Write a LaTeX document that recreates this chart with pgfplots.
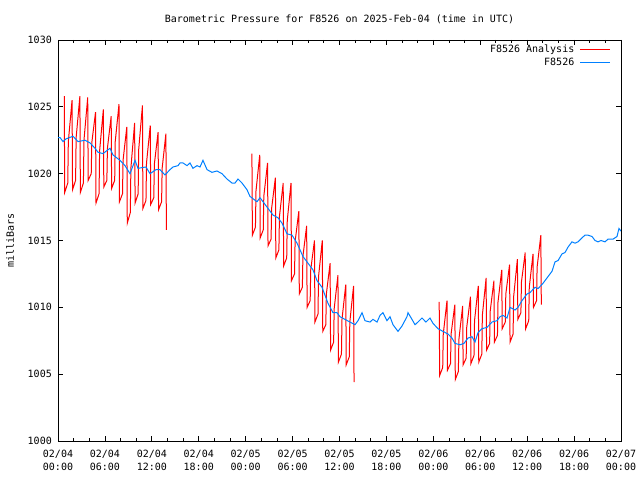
\documentclass[border=0pt]{standalone}
\usepackage{fontspec}
\setmainfont{DejaVu Sans Mono}
\usepackage{pgfplots}
\pgfplotsset{compat=1.18}
\definecolor{obsblue}{RGB}{0,128,255}

\begin{document}
\fontsize{10bp}{12.5bp}\selectfont
\begin{tikzpicture}
\path[use as bounding box] (0,0) rectangle (640bp,480bp);
\begin{axis}[
    at={(58bp,39bp)}, anchor=south west,
    width=563bp, height=401bp, scale only axis,
    xmin=0, xmax=72, ymin=1000, ymax=1030,
    xtick={0,6,...,72},
    minor x tick num=2,
    xticklabels={02/04\\00:00,02/04\\06:00,02/04\\12:00,02/04\\18:00,
                 02/05\\00:00,02/05\\06:00,02/05\\12:00,02/05\\18:00,
                 02/06\\00:00,02/06\\06:00,02/06\\12:00,02/06\\18:00,
                 02/07\\00:00},
    ytick={1000,1005,...,1030},
    tick align=inside,
    major tick length=5bp, minor tick length=3bp,
    tick style={black, line width=0.8bp},
    axis line style={line width=0.8bp},
    /pgf/number format/assume math mode=true,
    /pgf/number format/1000 sep={},
    xticklabel style={align=center, inner sep=0pt, yshift=-9bp},
    yticklabel style={inner sep=0pt, xshift=-6bp},
    ylabel={milliBars},
    every axis y label/.style={at={(axis description cs:0,0.5)}, rotate=90, anchor=center, yshift=48bp},
    title={Barometric Pressure for F8526 on 2025-Feb-04 (time in UTC)},
    title style={at={(0.5,1)}, anchor=south, inner sep=0pt, yshift=10bp},
    legend style={at={(1,1)}, anchor=north east, xshift=-10bp, yshift=-3bp,
                  draw=none, fill=none, inner sep=0pt, row sep=1bp, column sep=4bp,
                  nodes={inner sep=1.5bp}},
    legend cell align=right,
    legend plot pos=right,
    legend image code/.code={\draw[#1] (0bp,0bp) -- (30bp,0bp);},
]
% analysis runs
\addplot[red, line width=1bp] coordinates {
(0.8,1025.8) (0.86,1018.6) (1.25,1019.3) (1.32,1022.4)
(1.8,1025.5) (1.86,1018.8) (2.25,1019.5) (2.32,1022.7)
(2.8,1025.8) (2.86,1018.6) (3.25,1019.3) (3.32,1022.5)
(3.8,1025.7) (3.86,1019.5) (4.25,1020.0) (4.32,1022.3)
(4.8,1024.6) (4.86,1017.8) (5.25,1018.5) (5.32,1021.7)
(5.8,1024.8) (5.86,1019.0) (6.25,1019.5) (6.32,1021.9)
(6.8,1024.3) (6.86,1018.9) (7.25,1019.5) (7.32,1022.4)
(7.8,1025.2) (7.86,1017.9) (8.25,1018.5) (8.32,1021.0)
(8.8,1023.5) (8.86,1016.3) (9.25,1017.1) (9.32,1020.4)
(9.8,1023.8) (9.86,1017.8) (10.25,1018.5) (10.32,1021.8)
(10.8,1025.1) (10.86,1017.4) (11.25,1018.0) (11.32,1020.8)
(11.8,1023.6) (11.86,1017.7) (12.25,1018.2) (12.32,1020.7)
(12.8,1023.1) (12.86,1017.3) (13.25,1017.9) (13.32,1020.4)
(13.8,1023.0) (13.86,1015.8)
};
\addlegendentry{F8526 Analysis}
\addplot[red, line width=1bp, forget plot] coordinates {
(24.8,1021.5) (24.86,1015.4) (25.25,1016.0) (25.32,1018.7)
(25.8,1021.4) (25.86,1015.2) (26.25,1015.8) (26.32,1018.3)
(26.8,1020.8) (26.86,1014.6) (27.25,1015.1) (27.32,1017.4)
(27.8,1019.7) (27.86,1013.7) (28.25,1014.3) (28.32,1016.8)
(28.8,1019.3) (28.86,1013.1) (29.25,1013.7) (29.32,1016.5)
(29.8,1019.3) (29.86,1012.0) (30.25,1012.5) (30.32,1014.9)
(30.8,1017.2) (30.86,1011.0) (31.25,1011.5) (31.32,1013.8)
(31.8,1016.1) (31.86,1010.0) (32.25,1010.5) (32.32,1012.8)
(32.8,1015.0) (32.86,1008.9) (33.25,1009.5) (33.32,1012.3)
(33.8,1015.0) (33.86,1008.2) (34.25,1008.7) (34.32,1011.0)
(34.8,1013.3) (34.86,1006.8) (35.25,1007.4) (35.32,1009.9)
(35.8,1012.4) (35.86,1005.9) (36.25,1006.5) (36.32,1009.1)
(36.8,1011.7) (36.86,1005.7) (37.25,1006.3) (37.32,1008.9)
(37.8,1011.6) (37.86,1004.4)
};
\addplot[red, line width=1bp, forget plot] coordinates {
(48.75,1010.4) (48.81,1004.9) (49.2,1005.5) (49.27,1008.0)
(49.75,1010.5) (49.81,1005.3) (50.2,1005.8) (50.27,1008.0)
(50.75,1010.2) (50.81,1004.6) (51.2,1005.2) (51.27,1007.6)
(51.75,1010.1) (51.81,1005.7) (52.2,1006.2) (52.27,1008.5)
(52.75,1010.8) (52.81,1005.8) (53.2,1006.4) (53.27,1009.0)
(53.75,1011.6) (53.81,1005.9) (54.2,1006.5) (54.27,1009.4)
(54.75,1012.2) (54.81,1006.8) (55.2,1007.3) (55.27,1009.7)
(55.75,1012.0) (55.81,1007.4) (56.2,1007.9) (56.27,1010.4)
(56.75,1012.8) (56.81,1008.4) (57.2,1008.9) (57.27,1011.0)
(57.75,1013.2) (57.81,1007.4) (58.2,1008.0) (58.27,1010.8)
(58.75,1013.6) (58.81,1009.1) (59.2,1009.6) (59.27,1011.9)
(59.75,1014.1) (59.81,1008.4) (60.2,1009.0) (60.27,1011.5)
(60.75,1014.0) (60.81,1010.0) (61.2,1010.5) (61.27,1013.0)
(61.75,1015.4) (61.81,1010.2)
};
% observations
\addplot[obsblue, line width=1bp] coordinates {
(0,1022.7) (0.26,1022.7) (0.64,1022.4) (1.02,1022.6) (1.92,1022.8) (2.56,1022.4)
(3.45,1022.5) (4.09,1022.3) (4.73,1021.9) (5.12,1021.6) (5.75,1021.5) (6.65,1021.9)
(7.03,1021.4) (7.93,1021.0) (8.57,1020.6) (9.21,1020.0) (9.85,1021.0) (10.23,1020.4)
(11.25,1020.5) (11.77,1020.0) (12.53,1020.3) (13.04,1020.3) (13.68,1019.9) (14.32,1020.3)
(14.71,1020.5) (15.35,1020.6) (15.60,1020.8) (15.99,1020.8) (16.50,1020.6) (16.88,1020.8)
(17.26,1020.4) (17.78,1020.6) (18.16,1020.5) (18.54,1021.0) (19.06,1020.3) (19.69,1020.1)
(20.33,1020.2) (20.97,1020.0) (21.61,1019.6) (22.25,1019.3) (22.64,1019.3) (23.02,1019.6)
(23.53,1019.3) (24.17,1018.8) (24.55,1018.3) (25.45,1017.9) (25.83,1018.2) (26.22,1017.9)
(26.86,1017.4) (27.50,1016.9) (28.13,1016.7) (28.65,1016.3) (29.29,1015.5) (29.93,1015.4)
(30.57,1014.8) (30.95,1014.3) (31.33,1013.8) (31.97,1013.3) (32.61,1012.8) (33.12,1012.0)
(33.76,1011.5) (34.15,1010.9) (34.53,1010.3) (35.17,1009.6) (35.68,1009.6) (36.06,1009.3)
(36.70,1009.1) (37.34,1008.9) (37.98,1008.7) (38.37,1009.0) (38.88,1009.6) (39.26,1009.0)
(39.90,1008.9) (40.28,1009.1) (40.80,1008.9) (41.18,1009.4) (41.56,1009.6) (42.07,1009.0)
(42.46,1009.3) (42.84,1008.7) (43.48,1008.2) (43.99,1008.6) (44.63,1009.3) (44.76,1009.6)
(45.27,1009.1) (45.66,1008.7) (46.04,1008.9) (46.55,1009.2) (47.06,1008.9) (47.57,1009.2)
(47.96,1008.8) (48.60,1008.4) (49.24,1008.2) (49.88,1008.0) (50.39,1007.7) (50.77,1007.3)
(51.41,1007.2) (51.92,1007.3) (52.43,1007.7) (52.95,1007.8) (53.33,1007.4) (53.71,1008.1)
(54.22,1008.4) (54.86,1008.5) (55.50,1008.9) (56.14,1009.0) (56.53,1009.3) (56.91,1009.4)
(57.42,1009.2) (57.81,1010.0) (58.45,1009.8) (58.83,1010.0) (59.34,1010.5) (59.98,1011.0)
(60.36,1011.1) (61.00,1011.5) (61.39,1011.4) (62.03,1011.8) (62.54,1012.2) (63.18,1012.7)
(63.56,1013.4) (63.95,1013.5) (64.46,1014.0) (64.84,1014.1) (65.22,1014.5) (65.73,1014.9)
(66.12,1014.8) (66.50,1014.9) (67.01,1015.2) (67.40,1015.4) (67.78,1015.4) (68.29,1015.3)
(68.68,1015.0) (69.06,1014.9) (69.44,1015.0) (69.95,1014.9) (70.34,1015.1) (70.98,1015.1)
(71.49,1015.3) (71.74,1015.9) (72.0,1015.7)
};
\addlegendentry{F8526}
\end{axis}
\end{tikzpicture}
\end{document}
